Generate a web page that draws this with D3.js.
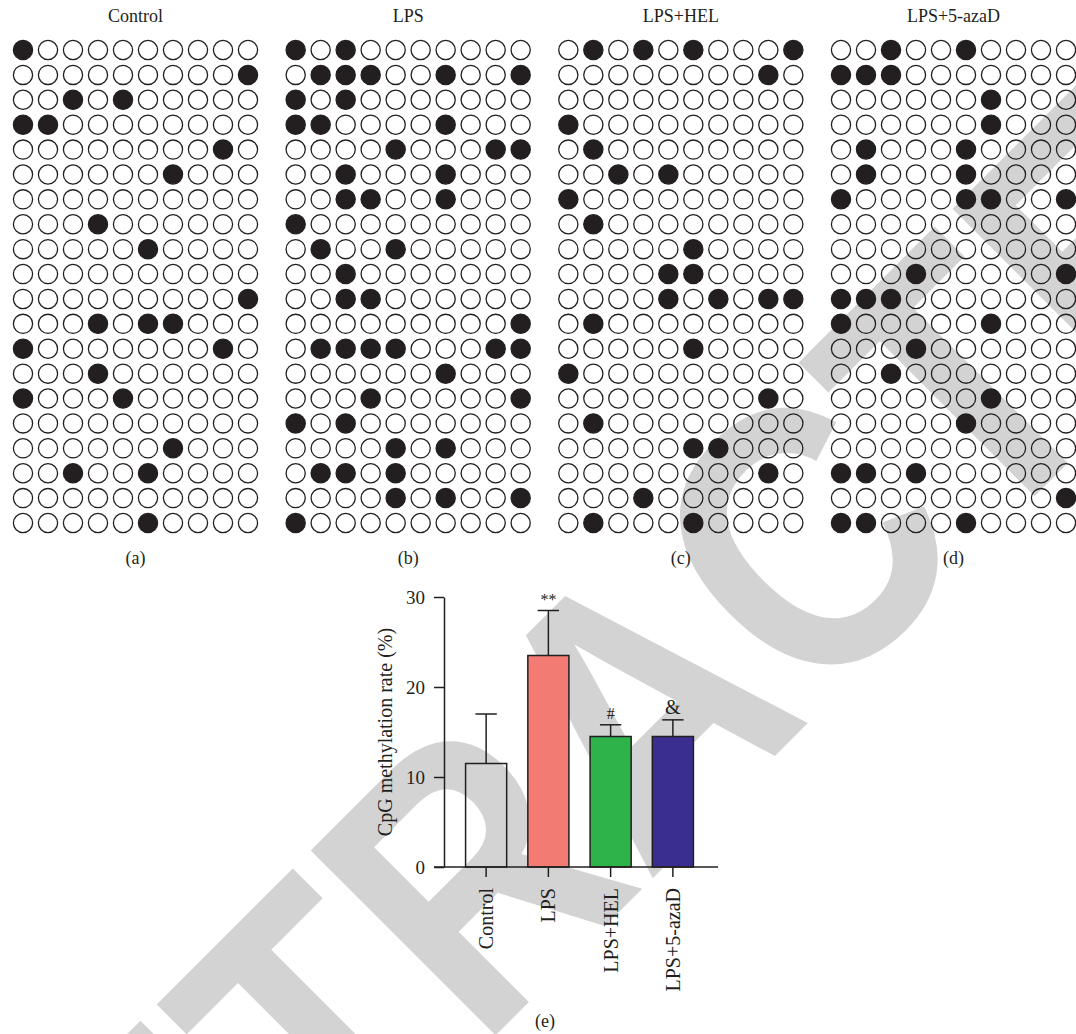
<!DOCTYPE html>
<html>
<head>
<meta charset="utf-8">
<script src="https://cdn.jsdelivr.net/npm/d3@7"></script>
<style>
  html, body { margin: 0; padding: 0; background: #fff; }
  svg { display: block; }
  text { font-family: "Liberation Serif", "DejaVu Serif", serif; fill: #231f20; }
</style>
</head>
<body>
<svg id="fig" width="1076" height="1034"></svg>
<script>
// Bisulfite sequencing: 20 clones x 10 CpG sites per group.
// Each row lists the CpG sites (0-9) found methylated in that clone.
const groups = ["Control", "LPS", "LPS+HEL", "LPS+5-azaD"];
const panelLetters = ["(a)", "(b)", "(c)", "(d)"];

const controlSites = [[0],[9],[2,4],[0,1],[8],[6],[],[3],[5],[],
                      [9],[3,5,6],[0,8],[3],[0,4],[],[6],[2,5],[],[5]];
const lpsSites = [[0,2],[1,2,3,6,9],[0,2],[0,1,6],[4,8,9],[2,6],[2,3,6],[0],[1,4],[2],
                  [2,3],[9],[1,2,3,4,8,9],[6],[3,9],[0,2],[4,6],[1,2,4],[4,6,9],[0]];
const helSites = [[1,3,5,9],[8],[],[0],[1],[2,4],[0],[1],[5],[4,5],
                  [4,6,8,9],[1],[5],[0],[8],[1],[5,6],[8],[3],[1,5]];
const azaSites = [[2,5],[0,1,2],[6],[6],[1,5],[1,5],[0,5,6,9],[],[],[3,9],
                  [0,1,2],[0,6],[3],[2],[6],[5],[],[0,1,3],[9],[0,1,5]];
const groupSites = [controlSites, lpsSites, helSites, azaSites];

const nSites = 10;
const nClones = 20;

// Panel (e): CpG methylation rate, mean and SD per group
const rates = [11.5, 23.5, 14.5, 14.5];
const rateSD = [5.5, 5.0, 1.3, 1.85];
const sigMarks = ["", "**", "#", "&"];
const barColors = ["none", "#f27c74", "#2eb34a", "#3a2f90"];
const yTicks = [0, 10, 20, 30];

const svg = d3.select("#fig");

// ---- RETRACTED stamp, drawn underneath everything ----
svg.append("g")
  .attr("transform", "translate(635,705) rotate(-45) scale(0.86,1)")
  .append("text")
  .attr("text-anchor", "middle")
  .attr("y", 135)
  .style("font-family", "'Liberation Sans', Arial, sans-serif")
  .style("font-weight", "bold")
  .style("font-size", "380px")
  .style("fill", "#d3d3d3")
  .text("RETRACTED");

// ---- Lollipop grids (a)-(d) ----
const panelX = d3.scaleLinear().domain([0, 3]).range([23, 841]);
const siteX = d3.scaleLinear().domain([0, nSites - 1]).range([0, 225]);
const cloneY = d3.scaleLinear().domain([0, nClones - 1]).range([50, 523]);

groups.forEach((name, gi) => {
  const g = svg.append("g").attr("transform", `translate(${panelX(gi)},0)`);
  const cells = [];
  groupSites[gi].forEach((row, r) => {
    for (let c = 0; c < nSites; c++) cells.push({ r, c, m: row.includes(c) });
  });
  g.selectAll("circle")
    .data(cells)
    .join("circle")
    .attr("cx", d => siteX(d.c))
    .attr("cy", d => cloneY(d.r))
    .attr("r", 9.6)
    .attr("fill", d => d.m ? "#231f20" : "none")
    .attr("stroke", "#231f20")
    .attr("stroke-width", 1.3);

  g.append("text")
    .attr("x", siteX(4.5))
    .attr("y", 22)
    .attr("text-anchor", "middle")
    .style("font-size", "18px")
    .text(name);

  g.append("text")
    .attr("x", siteX(4.5))
    .attr("y", 564)
    .attr("text-anchor", "middle")
    .style("font-size", "18px")
    .text(panelLetters[gi]);
});

// ---- Bar chart (e) ----
const y = d3.scaleLinear().domain([0, 30]).range([867, 597]);
const x = d3.scaleBand().domain(groups).range([455, 704]).paddingInner(0.34).paddingOuter(0.17);

const chart = svg.append("g");

// bars
chart.selectAll("rect.bar")
  .data(groups)
  .join("rect")
  .attr("class", "bar")
  .attr("x", d => x(d))
  .attr("width", x.bandwidth())
  .attr("y", (d, i) => y(rates[i]))
  .attr("height", (d, i) => y(0) - y(rates[i]))
  .attr("fill", (d, i) => barColors[i])
  .attr("stroke", "#231f20")
  .attr("stroke-width", 1.5);

// error bars (upper only)
const capHalf = x.bandwidth() * 0.26;
groups.forEach((d, i) => {
  const cx = x(d) + x.bandwidth() / 2;
  chart.append("line")
    .attr("x1", cx).attr("x2", cx)
    .attr("y1", y(rates[i])).attr("y2", y(rates[i] + rateSD[i]))
    .attr("stroke", "#231f20").attr("stroke-width", 1.5);
  chart.append("line")
    .attr("x1", cx - capHalf).attr("x2", cx + capHalf)
    .attr("y1", y(rates[i] + rateSD[i])).attr("y2", y(rates[i] + rateSD[i]))
    .attr("stroke", "#231f20").attr("stroke-width", 1.5);
  if (sigMarks[i]) {
    chart.append("text")
      .attr("x", cx)
      .attr("y", y(rates[i] + rateSD[i]) - 6)
      .attr("text-anchor", "middle")
      .style("font-size", sigMarks[i] === "&" ? "20px" : "16px")
      .text(sigMarks[i]);
  }
});

// y axis
const yAxis = chart.append("g")
  .attr("transform", "translate(444,0)")
  .call(d3.axisLeft(y).tickValues(yTicks).tickSize(10).tickSizeOuter(0).tickPadding(9));
yAxis.select(".domain").attr("stroke", "#231f20").attr("stroke-width", 1.5);
yAxis.selectAll(".tick line").attr("stroke", "#231f20").attr("stroke-width", 1.5);
yAxis.selectAll(".tick text")
  .style("font-family", "'Liberation Serif', serif")
  .style("font-size", "19px")
  .attr("fill", "#231f20");

// x axis baseline, from the 0 tick across the bars
chart.append("line")
  .attr("x1", 434).attr("x2", 718)
  .attr("y1", y(0)).attr("y2", y(0))
  .attr("stroke", "#231f20").attr("stroke-width", 1.5);

const xAxis = chart.append("g")
  .attr("transform", `translate(0,${y(0)})`)
  .call(d3.axisBottom(x).tickSize(10).tickSizeOuter(0));
xAxis.select(".domain").remove();
xAxis.selectAll(".tick line").attr("stroke", "#231f20").attr("stroke-width", 1.5);
xAxis.selectAll(".tick text")
  .style("font-family", "'Liberation Serif', serif")
  .style("font-size", "20px")
  .attr("fill", "#231f20")
  .attr("text-anchor", "end")
  .attr("transform", "rotate(-90)")
  .attr("x", -21)
  .attr("y", 0)
  .attr("dy", "0.35em");

// y axis title
chart.append("text")
  .attr("transform", `translate(392,${(y(0) + y(30)) / 2}) rotate(-90)`)
  .attr("text-anchor", "middle")
  .style("font-size", "20px")
  .text("CpG methylation rate (%)");

// panel letter (e)
svg.append("text")
  .attr("x", 545)
  .attr("y", 1027)
  .attr("text-anchor", "middle")
  .style("font-size", "18px")
  .text("(e)");
</script>
</body>
</html>
